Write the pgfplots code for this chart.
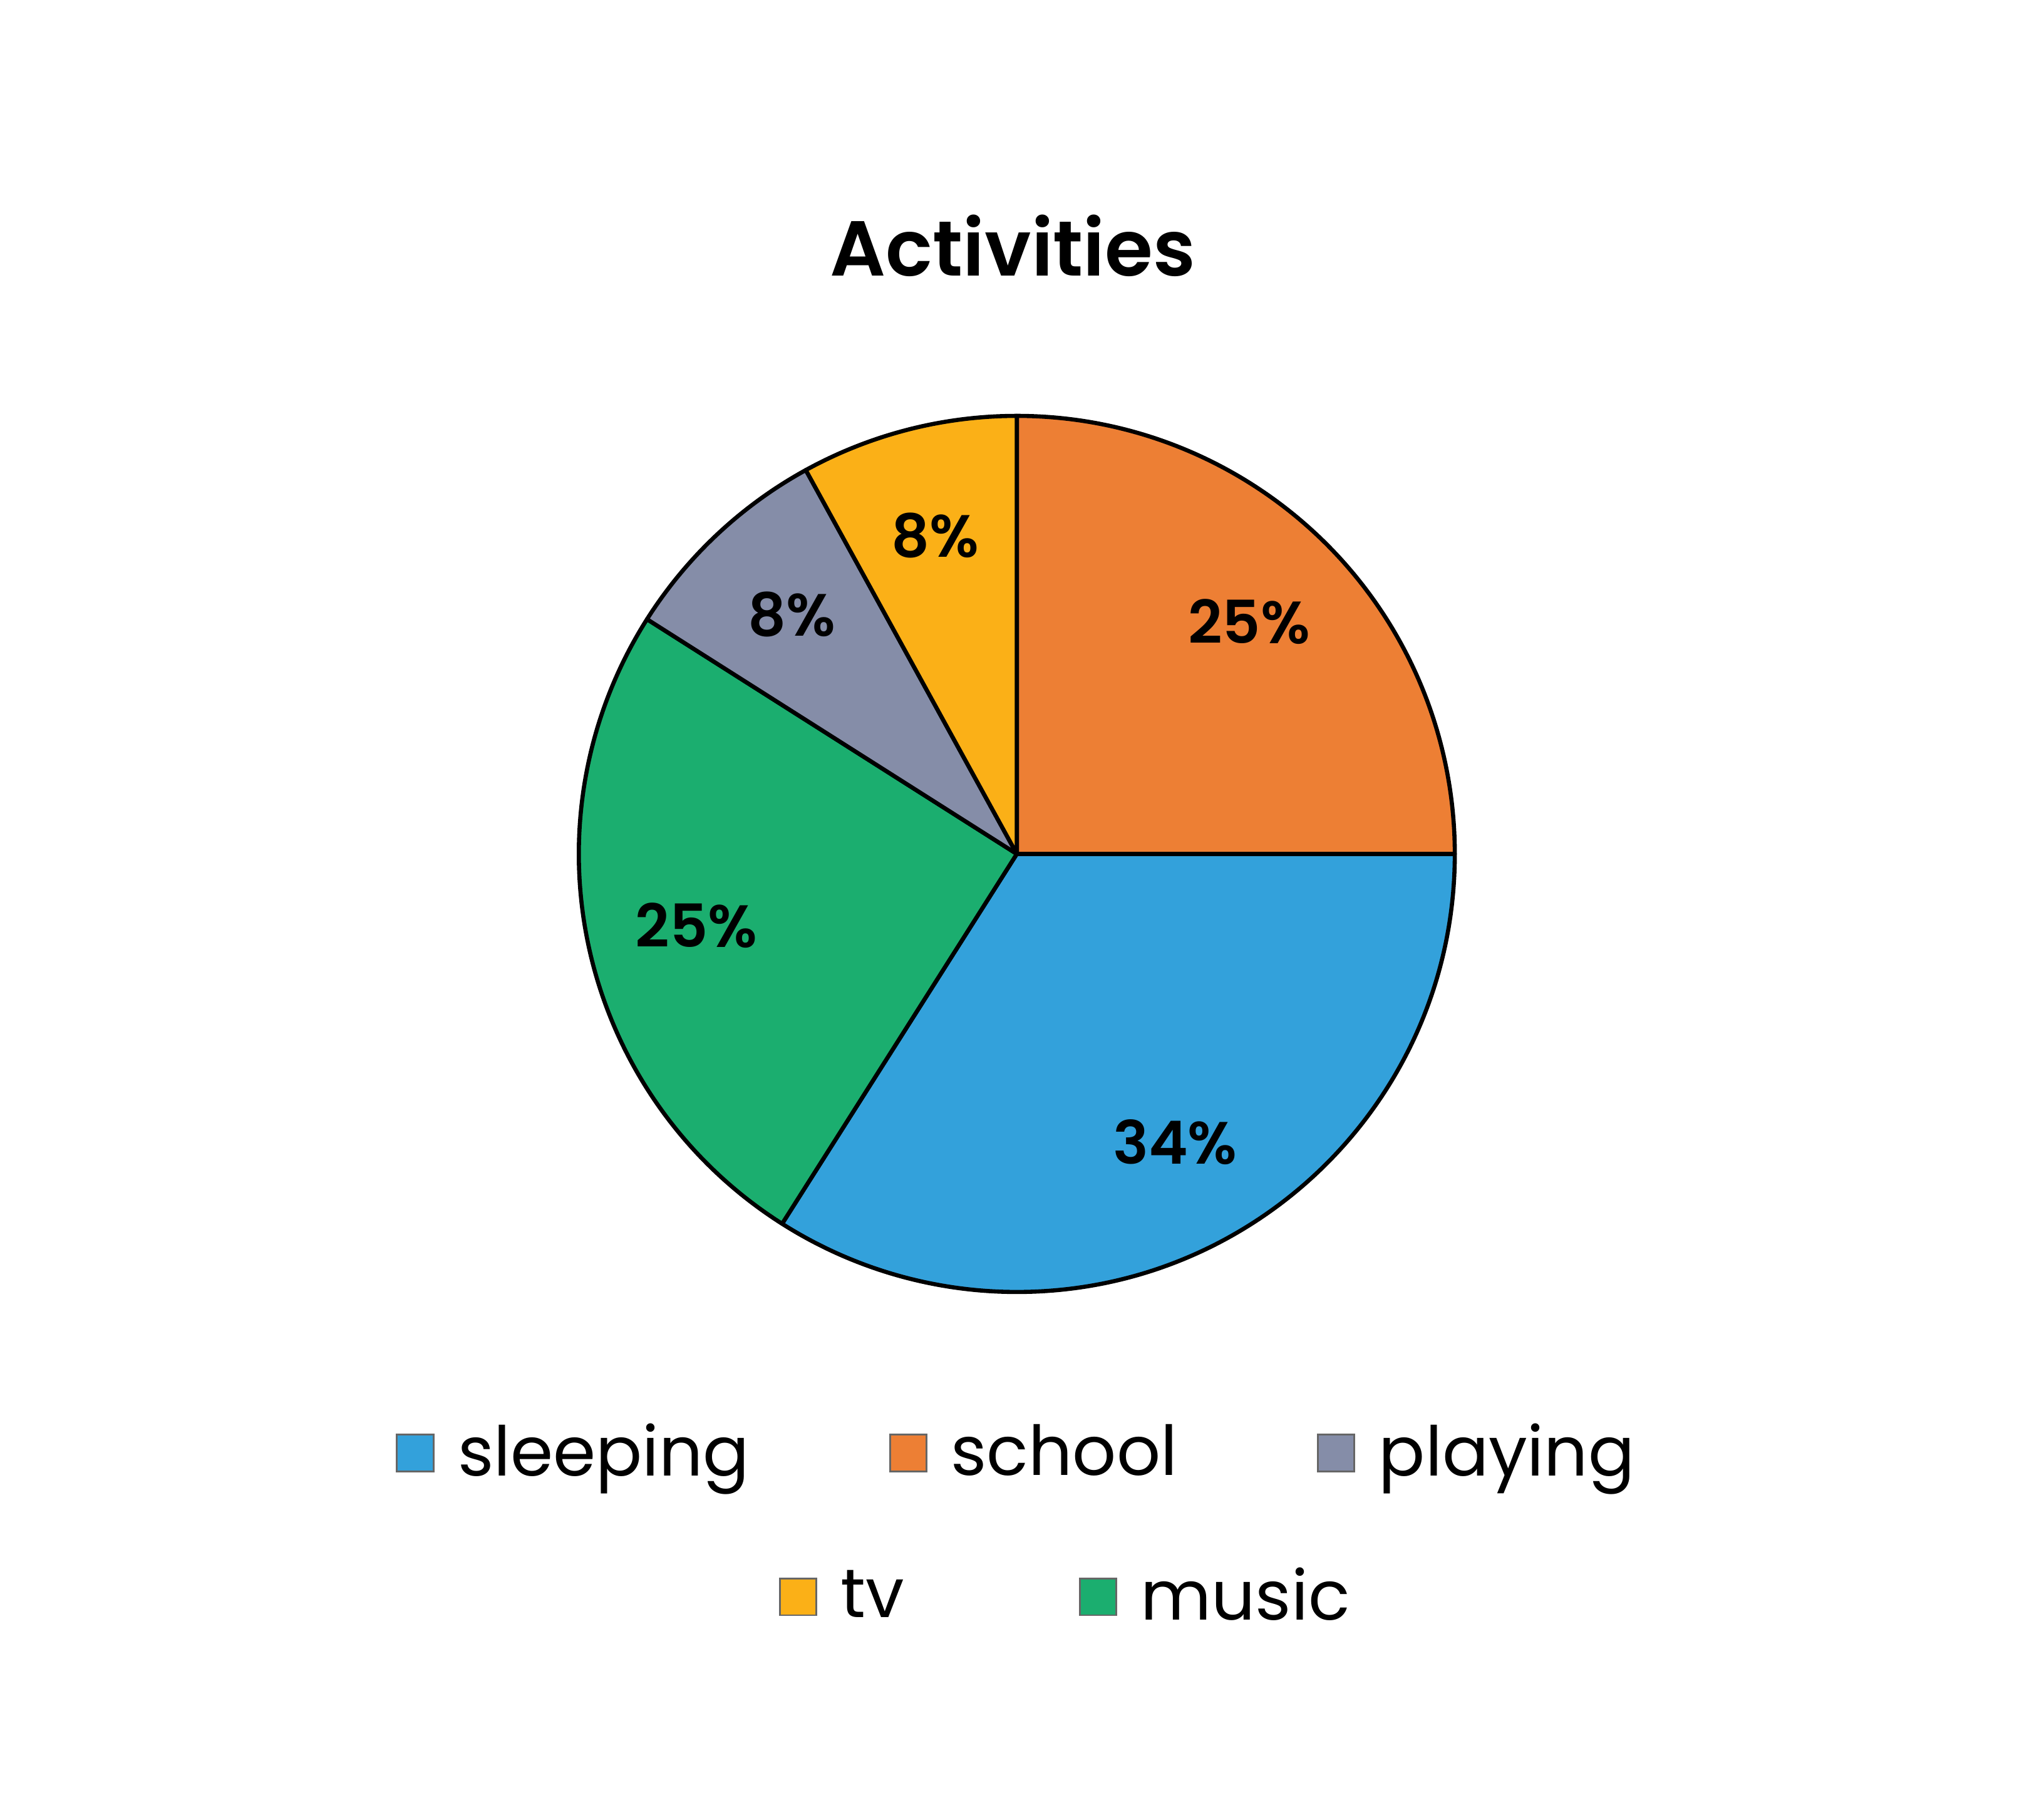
\documentclass[border=0pt]{standalone}
\usepackage{fontspec}
\setmainfont{Poppins}
\newfontfamily\semifont{Poppins SemiBold}
\usepackage{pgfplots}
\usepackage{pgfplotstable}
\pgfplotsset{compat=1.18}

\definecolor{cSleep}{HTML}{33A1DB}
\definecolor{cSchool}{HTML}{ED7F34}
\definecolor{cPlay}{HTML}{858DA8}
\definecolor{cTv}{HTML}{FBB017}
\definecolor{cMusic}{HTML}{1BAE6F}

% slices in drawing order, clockwise from 12 o'clock
\pgfplotstableread{
label value color
school 25 cSchool
sleeping 34 cSleep
music 25 cMusic
playing 8 cPlay
tv 8 cTv
}\piedata

\tikzset{pct/.style={font=\semifont\fontsize{13}{15}\selectfont}}
\pgfplotsset{
  swatch/.style={
    legend image code/.code={\draw[##1,draw=black!60,line width=0.4pt] (0cm,-0.14cm) rectangle (0.28cm,0.14cm);}},
  leg/.style={
    hide axis, scale only axis, width=15.68cm, height=13.88cm,
    xmin=0, xmax=1568, ymin=0, ymax=1388, at={(0,0)}, anchor=south west,
    legend columns=-1,
    legend style={draw=none, fill=none, anchor=center,
      font=\fontsize{15}{18}\selectfont,
      /tikz/every odd column/.append style={column sep=1.1mm}},
  },
}

\begin{document}
\begin{tikzpicture}
\useasboundingbox (0,0) rectangle (15.68cm,13.88cm);
\begin{axis}[leg, swatch, clip=false,
  title={Activities},
  title style={at={(axis description cs:0.4955,0.849)}, anchor=center,
    font=\semifont\fontsize{17}{20}\selectfont},
  legend style={at={(axis description cs:0.499,0.197)},
    /tikz/every even column/.append style={column sep=10mm}},
]
  \pgfplotstablegetrowsof{\piedata}
  \pgfmathtruncatemacro\lastrow{\pgfplotsretval-1}
  \def\angstart{90}
  \pgfplotsforeachungrouped \i in {0,...,\lastrow}{
    \pgfplotstablegetelem{\i}{value}\of\piedata \let\val\pgfplotsretval
    \pgfplotstablegetelem{\i}{color}\of\piedata \let\col\pgfplotsretval
    \pgfmathsetmacro\angend{\angstart-3.6*\val}
    \pgfmathsetmacro\angmid{(\angstart+\angend)/2}
    \edef\doslice{%
      \noexpand\filldraw[fill=\col, draw=black, line width=0.9pt, line join=round]
        (axis cs:780,733) -- ++(\angstart:3.36cm)
        arc[start angle=\angstart, end angle=\angend, radius=3.36cm] -- cycle;
      \noexpand\path (axis cs:780,733) ++(\angmid:2.52cm) node[pct] {\val\noexpand\%};}
    \doslice
    \let\angstart\angend
  }
  \addlegendimage{fill=cSleep}\addlegendentry{sleeping}
  \addlegendimage{fill=cSchool}\addlegendentry{school}
  \addlegendimage{fill=cPlay}\addlegendentry{playing}
\end{axis}
\begin{axis}[leg, swatch,
  legend style={at={(axis description cs:0.523,0.1175)},
    /tikz/every even column/.append style={column sep=12.7mm}},
]
  \addlegendimage{fill=cTv}\addlegendentry{tv}
  \addlegendimage{fill=cMusic}\addlegendentry{music}
\end{axis}
\end{tikzpicture}
\end{document}
